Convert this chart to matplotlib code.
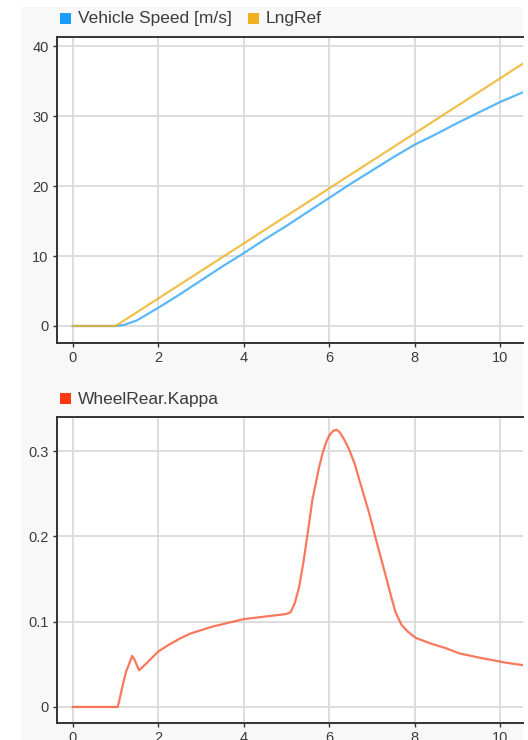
import matplotlib
matplotlib.use("Agg")
import matplotlib.pyplot as plt
from matplotlib.patches import Rectangle

# Signals
speed_t = [0, 1.0, 1.2, 1.5, 2.0, 2.5, 3.0, 3.5, 4.0, 4.5, 5.0, 5.5, 6.0, 6.5,
           7.0, 7.5, 8.0, 8.5, 9.0, 9.5, 10.0, 10.54]
speed_v = [0, 0, 0.15, 0.8, 2.6, 4.5, 6.5, 8.5, 10.4, 12.4, 14.3, 16.3, 18.3, 20.3,
           22.2, 24.1, 25.9, 27.4, 29.0, 30.5, 32.0, 33.4]

ref_t = [0, 1.0, 10.54]
ref_v = [0, 0, 37.5]

kappa_t = [0, 1.05, 1.1, 1.18, 1.25, 1.3, 1.39, 1.45, 1.55, 1.7, 2.0, 2.25, 2.5, 2.75,
           3.0, 3.25, 3.5, 4.0, 4.5, 5.0, 5.1, 5.2, 5.3, 5.4, 5.5, 5.61, 5.7, 5.77,
           5.85, 5.93, 6.0, 6.1, 6.18, 6.25, 6.35, 6.47, 6.6, 6.71, 6.94, 7.1, 7.33,
           7.45, 7.55, 7.64, 7.7, 7.85, 8.03, 8.4, 8.73, 9.04, 9.5, 10.13, 10.54]
kappa_v = [0, 0, 0.01, 0.028, 0.042, 0.048, 0.060, 0.055, 0.043, 0.050, 0.065, 0.073,
           0.080, 0.086, 0.090, 0.094, 0.097, 0.103, 0.106, 0.109, 0.111, 0.122, 0.141,
           0.170, 0.204, 0.243, 0.265, 0.282, 0.298, 0.310, 0.318, 0.324, 0.325, 0.322,
           0.314, 0.302, 0.285, 0.266, 0.227, 0.196, 0.153, 0.130, 0.112, 0.102, 0.096,
           0.088, 0.081, 0.074, 0.069, 0.063, 0.058, 0.052, 0.049]

x_ticks = [0, 2, 4, 6, 8, 10]
speed_ticks = [0, 10, 20, 30, 40]
kappa_ticks = [0, 0.1, 0.2, 0.3]
kappa_ticklabels = ["0", "0.1", "0.2", "0.3"]

W, H = 528, 740
plt.rcParams["font.family"] = ["Liberation Sans", "DejaVu Sans"]

fig = plt.figure(figsize=(W / 100, H / 100), dpi=100, facecolor="white")


def fx(px):
    return px / W


def fy(py):
    return 1 - py / H


# light panel behind both plots
fig.patches.append(Rectangle((fx(21), 0), fx(523) - fx(21), fy(7), transform=fig.transFigure,
                             facecolor="#f8f8f8", edgecolor="none", zorder=-5))

BLUE_LINE, BLUE_KEY = "#4aaff7", "#1a9cff"
ORANGE_LINE, ORANGE_KEY = "#edb120", "#f0b020"
RED_LINE, RED_KEY = "#f86a4c", "#ff3812"
TXT = "#3c3c3c"


def style(ax):
    ax.set_facecolor("white")
    ax.grid(True, color="#dadada", lw=1.3)
    ax.set_axisbelow(True)
    for s in ("left", "bottom", "top"):
        ax.spines[s].set_color("#333333")
        ax.spines[s].set_linewidth(1.4)
    ax.spines["right"].set_visible(False)
    ax.tick_params(axis="both", direction="out", length=3, width=1, color="#333333",
                   labelsize=10.5, labelcolor=TXT, pad=3)
    ax.set_xticks(x_ticks)
    ax.set_xlim(-0.37, 10.54)


def key(px, py, color, label):
    fig.patches.append(Rectangle((fx(px), fy(py + 11)), fx(11), 11 / H, transform=fig.transFigure,
                                 facecolor=color, edgecolor="none", zorder=2))
    fig.text(fx(px + 18), fy(py + 6), label, fontsize=12.5, color=TXT, va="center", ha="left")


# Speed tracking
ax1 = fig.add_axes([fx(57), fy(343), fx(523) - fx(57), (343 - 37) / H])
style(ax1)
ax1.plot(speed_t, speed_v, color=BLUE_LINE, lw=1.6, alpha=0.9)
ax1.plot(ref_t, ref_v, color=ORANGE_LINE, lw=1.6, alpha=0.8)
ax1.set_yticks(speed_ticks)
ax1.set_ylim(-2.43, 41.3)

key(60, 13, BLUE_KEY, "Vehicle Speed [m/s]")
key(248, 13, ORANGE_KEY, "LngRef")

# Rear wheel slip
ax2 = fig.add_axes([fx(57), fy(723), fx(523) - fx(57), (723 - 417) / H])
style(ax2)
ax2.plot(kappa_t, kappa_v, color=RED_LINE, lw=1.6, alpha=0.9)
ax2.set_yticks(kappa_ticks)
ax2.set_yticklabels(kappa_ticklabels)
ax2.set_ylim(-0.0188, 0.34)

key(60, 393, RED_KEY, "WheelRear.Kappa")

fig.savefig("out.png", dpi=100, facecolor="white")
